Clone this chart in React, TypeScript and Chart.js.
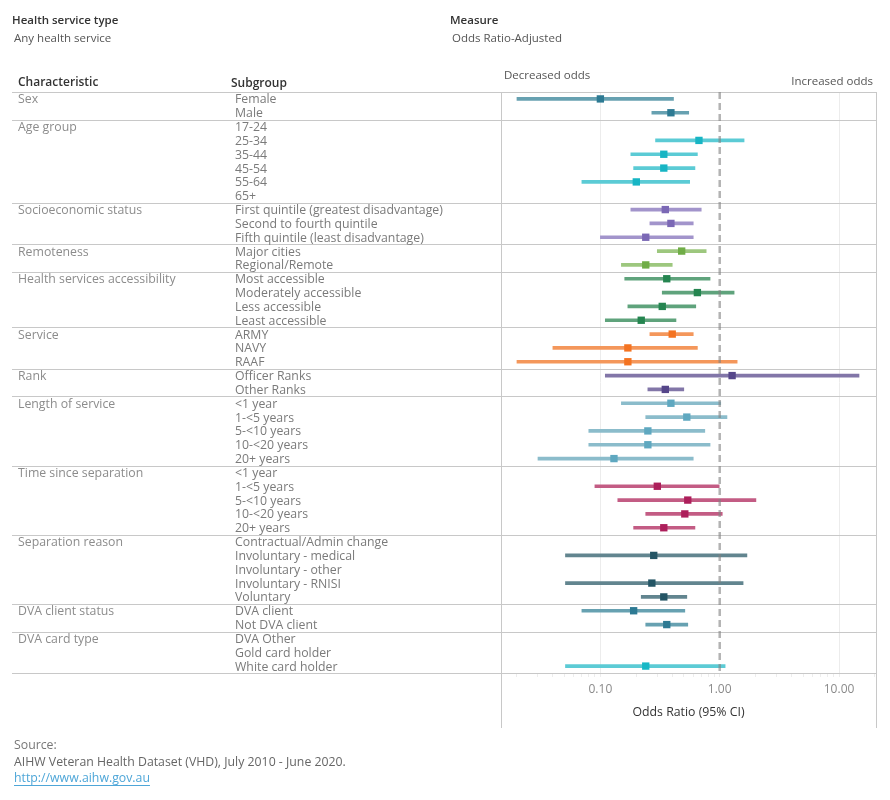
import React, { useEffect, useRef } from 'react';
import { Chart, registerables } from 'chart.js';

Chart.register(...registerables);

const characteristics = [
  'Sex', 'Age group', 'Socioeconomic status', 'Remoteness', 'Health services accessibility',
  'Service', 'Rank', 'Length of service', 'Time since separation', 'Separation reason',
  'DVA client status', 'DVA card type',
];
const groupSizes = [2, 6, 3, 2, 4, 3, 2, 5, 5, 5, 2, 3];

const subgroups = [
  'Female', 'Male',
  '17-24', '25-34', '35-44', '45-54', '55-64', '65+',
  'First quintile (greatest disadvantage)', 'Second to fourth quintile', 'Fifth quintile (least disadvantage)',
  'Major cities', 'Regional/Remote',
  'Most accessible', 'Moderately accessible', 'Less accessible', 'Least accessible',
  'ARMY', 'NAVY', 'RAAF',
  'Officer Ranks', 'Other Ranks',
  '<1 year', '1-<5 years', '5-<10 years', '10-<20 years', '20+ years',
  '<1 year', '1-<5 years', '5-<10 years', '10-<20 years', '20+ years',
  'Contractual/Admin change', 'Involuntary - medical', 'Involuntary - other', 'Involuntary - RNISI', 'Voluntary',
  'DVA client', 'Not DVA client',
  'DVA Other', 'Gold card holder', 'White card holder',
];

const oddsRatio: (number | null)[] = [
  0.10, 0.39,
  null, 0.67, 0.34, 0.34, 0.20, null,
  0.35, 0.39, 0.24,
  0.48, 0.24,
  0.36, 0.65, 0.33, 0.22,
  0.40, 0.17, 0.17,
  1.27, 0.35,
  0.39, 0.53, 0.25, 0.25, 0.13,
  null, 0.30, 0.54, 0.51, 0.34,
  null, 0.28, null, 0.27, 0.34,
  0.19, 0.36,
  null, null, 0.24,
];
const ciLower: (number | null)[] = [
  0.020, 0.27,
  null, 0.29, 0.18, 0.19, 0.070, null,
  0.18, 0.26, 0.10,
  0.30, 0.15,
  0.16, 0.33, 0.17, 0.11,
  0.26, 0.040, 0.020,
  0.11, 0.25,
  0.15, 0.24, 0.080, 0.080, 0.030,
  null, 0.090, 0.14, 0.24, 0.19,
  null, 0.051, null, 0.051, 0.22,
  0.070, 0.24,
  null, null, 0.051,
];
const ciUpper: (number | null)[] = [
  0.41, 0.55,
  null, 1.60, 0.65, 0.62, 0.56, null,
  0.70, 0.60, 0.60,
  0.77, 0.40,
  0.83, 1.32, 0.63, 0.43,
  0.60, 0.65, 1.40,
  14.7, 0.50,
  1.02, 1.15, 0.75, 0.83, 0.60,
  null, 0.99, 2.01, 1.05, 0.62,
  null, 1.69, null, 1.57, 0.53,
  0.51, 0.54,
  null, null, 1.11,
];

const pointColors = [
  '#2d7a93', '#17b5c4', '#7b68b5', '#70ad47', '#258550', '#f47321',
  '#55468a', '#5fa8c0', '#ad1f5b', '#245565', '#2d7a93', '#17b8c6',
];
const lineColors = [
  '#67a1b1', '#5bcbd5', '#a294cb', '#9dc77e', '#5fa37c', '#f4975b',
  '#8276a8', '#8bbccb', '#c35c84', '#62858f', '#67a1b1', '#5ccbd5',
];

const xTickValues = [
  0.02, 0.03, 0.04, 0.05, 0.06, 0.07, 0.08, 0.09,
  0.1, 0.2, 0.3, 0.4, 0.5, 0.6, 0.7, 0.8, 0.9,
  1, 2, 3, 4, 5, 6, 7, 8, 9,
  10, 20,
];
const majorTicks = [0.1, 1, 10];

const FONT = '"Open Sans", Lato, sans-serif';

export default function App() {
  const ref = useRef<HTMLCanvasElement>(null);

  useEffect(() => {
    const canvas = ref.current;
    if (!canvas) return;
    const groupOf: number[] = [];
    const groupStart: number[] = [];
    groupSizes.forEach((n, g) => {
      groupStart.push(groupOf.length);
      for (let k = 0; k < n; k++) groupOf.push(g);
    });

    const barData: any[] = [];
    const barColors: string[] = [];
    const pointData: any[] = [];
    const ptColors: string[] = [];
    subgroups.forEach((_, i) => {
      const est = oddsRatio[i];
      const lo = ciLower[i];
      const hi = ciUpper[i];
      if (est == null || lo == null || hi == null) return;
      barData.push({ x: [lo, hi], y: i });
      barColors.push(lineColors[groupOf[i]]);
      pointData.push({ x: est, y: i });
      ptColors.push(pointColors[groupOf[i]]);
    });

    const text = (ctx: CanvasRenderingContext2D, s: string, x: number, y: number, font: string, color: string, align: CanvasTextAlign = 'left') => {
      ctx.font = font;
      ctx.fillStyle = color;
      ctx.textAlign = align;
      ctx.textBaseline = 'middle';
      ctx.fillText(s, x, y);
    };

    const tablePlugin = {
      id: 'forestTable',
      beforeDatasetsDraw(chart: any) {
        const { ctx, chartArea } = chart;
        const yS = chart.scales.y;
        ctx.save();
        // headers
        text(ctx, 'Health service type', 12, 21, `600 11.5px ${FONT}`, '#333');
        text(ctx, 'Any health service', 14, 39, `11.5px ${FONT}`, '#555');
        text(ctx, 'Measure', 450, 21, `600 11.5px ${FONT}`, '#333');
        text(ctx, 'Odds Ratio-Adjusted', 452, 39, `11.5px ${FONT}`, '#555');
        text(ctx, 'Characteristic', 18, 83, `600 12px ${FONT}`, '#333');
        text(ctx, 'Subgroup', 231, 84, `600 12px ${FONT}`, '#333');
        text(ctx, 'Decreased odds', 504, 76, `11.5px ${FONT}`, '#555');
        text(ctx, 'Increased odds', 873, 82, `11.5px ${FONT}`, '#555', 'right');

        // separators
        ctx.strokeStyle = '#c8c8c8';
        ctx.lineWidth = 1;
        const hline = (y: number) => {
          const yy = Math.round(y) + 0.5;
          ctx.beginPath();
          ctx.moveTo(12, yy);
          ctx.lineTo(chartArea.right, yy);
          ctx.stroke();
        };
        groupStart.forEach((s) => hline(yS.getPixelForValue(s - 0.5)));
        hline(yS.getPixelForValue(subgroups.length - 0.5));
        // vertical borders
        [chartArea.left, chartArea.right].forEach((x: number) => {
          const xx = Math.round(x) + 0.5;
          ctx.beginPath();
          ctx.moveTo(xx, chartArea.top);
          ctx.lineTo(xx, 728);
          ctx.stroke();
        });

        // labels
        characteristics.forEach((c, g) => {
          text(ctx, c, 18, yS.getPixelForValue(groupStart[g]) + 1, `12.3px ${FONT}`, '#8c8c8c');
        });
        subgroups.forEach((s, i) => {
          text(ctx, s, 235, yS.getPixelForValue(i) + 1, `12.3px ${FONT}`, '#7a7a7a');
        });

        // footer
        text(ctx, 'Source:', 14, 745, `12.3px ${FONT}`, '#777');
        text(ctx, 'AIHW Veteran Health Dataset (VHD), July 2010 - June 2020.', 14, 762, `12.3px ${FONT}`, '#666');
        const link = 'http://www.aihw.gov.au';
        text(ctx, link, 14, 778, `12.3px ${FONT}`, '#4ea6d8');
        const w = ctx.measureText(link).width;
        ctx.strokeStyle = '#4ea6d8';
        ctx.beginPath();
        ctx.moveTo(14, 785.5);
        ctx.lineTo(14 + w, 785.5);
        ctx.stroke();
        ctx.restore();
      },
      afterDatasetDraw(chart: any, args: any) {
        if (args.index !== 1) return;
        const { ctx, chartArea } = chart;
        const x = chart.scales.x.getPixelForValue(1);
        ctx.save();
        ctx.strokeStyle = 'rgba(128,128,128,0.6)';
        ctx.lineWidth = 2.5;
        ctx.setLineDash([7, 4]);
        ctx.beginPath();
        ctx.moveTo(x, chartArea.top);
        ctx.lineTo(x, chartArea.bottom);
        ctx.stroke();
        ctx.restore();
      },
    };

    const chart = new Chart(canvas, {
      type: 'bar',
      data: {
        datasets: [
          {
            type: 'scatter',
            data: pointData,
            pointStyle: 'rect',
            pointRadius: 5.2,
            pointHoverRadius: 5.2,
            pointBorderWidth: 0,
            pointBackgroundColor: ptColors,
            backgroundColor: ptColors,
            borderColor: ptColors,
            order: 0,
            xAxisID: 'x',
            yAxisID: 'y',
          } as any,
          {
            type: 'bar',
            indexAxis: 'y',
            data: barData,
            backgroundColor: barColors,
            barThickness: 3,
            borderWidth: 0,
            borderSkipped: false,
            order: 1,
            xAxisID: 'x',
            yAxisID: 'y',
          } as any,
        ],
      },
      options: {
        responsive: false,
        animation: false,
        events: [],
        layout: { padding: { top: 92, left: 501, right: 14, bottom: 0 } },
        plugins: { legend: { display: false }, tooltip: { enabled: false } },
        scales: {
          x: {
            type: 'logarithmic',
            position: 'bottom',
            offset: false,
            min: 0.0147,
            max: 20.4,
            afterBuildTicks: (s: any) => {
              s.ticks = xTickValues.map((v) => ({ value: v, major: false }));
            },
            afterFit: (s: any) => {
              s.height = 127;
            },
            border: { display: false },
            grid: {
              offset: false,
              color: (c: any) => (c.tick && (c.tick.value === 0.1 || c.tick.value === 10) ? '#ececec' : 'rgba(0,0,0,0)'),
              tickColor: '#ededed',
              tickLength: 4,
              lineWidth: 1,
            },
            ticks: {
              autoSkip: false,
              maxRotation: 0,
              padding: 5,
              color: '#8a8a8a',
              font: { size: 12, family: FONT },
              callback: (v: any) => (majorTicks.includes(Number(v)) ? Number(v).toFixed(2) : ''),
            },
            title: {
              display: true,
              text: 'Odds Ratio (95% CI)',
              color: '#333',
              font: { size: 12.3, family: FONT },
              padding: { top: 0, bottom: 80 },
            },
          } as any,
          y: {
            type: 'linear',
            offset: false,
            grid: { offset: false },
            min: -0.5,
            max: subgroups.length - 0.5,
            reverse: true,
            display: false,
          } as any,
        },
      },
      plugins: [tablePlugin],
    });
    return () => chart.destroy();
  }, []);

  return (
    <div style={{ position: 'absolute', left: 0, top: 0, width: 890, height: 800, background: '#fff' }}>
      <canvas ref={ref} width={890} height={800} style={{ width: 890, height: 800, display: 'block' }} />
    </div>
  );
}
